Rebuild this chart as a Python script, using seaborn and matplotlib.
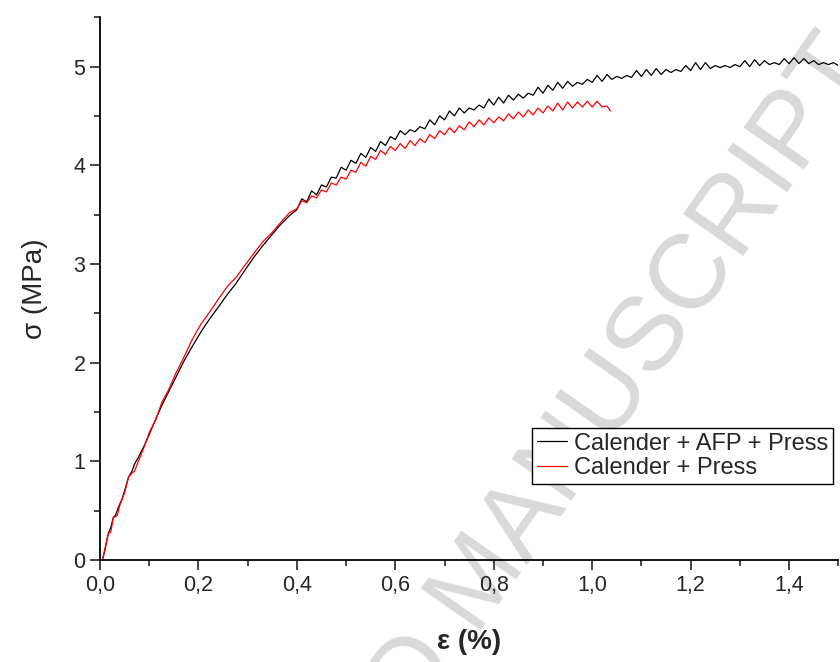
"""
Stress-strain curves, calender + AFP + press vs calender + press
"""
import matplotlib
matplotlib.use("Agg")
import matplotlib.pyplot as plt
import matplotlib.ticker as ticker
import pandas as pd
import seaborn as sns

# ---------- data ----------
strain_afp = [
    0.005, 0.010, 0.017, 0.022, 0.027, 0.032, 0.037, 0.045, 0.050, 0.058,
    0.065, 0.070, 0.078, 0.085, 0.090, 0.100, 0.110, 0.126, 0.140, 0.153,
    0.170, 0.187, 0.205, 0.221, 0.240, 0.260, 0.276, 0.295, 0.313, 0.330,
    0.350, 0.367, 0.385,
    0.40, 0.41, 0.42, 0.43, 0.44, 0.45, 0.46, 0.47, 0.48, 0.49,
    0.50, 0.51, 0.52, 0.53, 0.54, 0.55, 0.56, 0.57, 0.58, 0.59,
    0.60, 0.61, 0.62, 0.63, 0.64, 0.65, 0.66, 0.67, 0.68, 0.69,
    0.70, 0.71, 0.72, 0.73, 0.74, 0.75, 0.76, 0.77, 0.78, 0.79,
    0.80, 0.81, 0.82, 0.83, 0.84, 0.85, 0.86, 0.87, 0.88, 0.89,
    0.90, 0.91, 0.92, 0.93, 0.94, 0.95, 0.96, 0.97, 0.98, 0.99,
    1.00, 1.01, 1.02, 1.03, 1.04, 1.05, 1.06, 1.07, 1.08, 1.09,
    1.10, 1.11, 1.12, 1.13, 1.14, 1.15, 1.16, 1.17, 1.18, 1.19,
    1.20, 1.21, 1.22, 1.23, 1.24, 1.25, 1.26, 1.27, 1.28, 1.29,
    1.30, 1.31, 1.32, 1.33, 1.34, 1.35, 1.36, 1.37, 1.38, 1.39,
    1.40, 1.41, 1.42, 1.43, 1.44, 1.45, 1.46, 1.47, 1.48, 1.49,
    1.50, 1.51,
]
stress_afp = [
    0.00, 0.10, 0.27, 0.33, 0.43, 0.46, 0.53, 0.62, 0.70, 0.84,
    0.90, 0.97, 1.04, 1.11, 1.16, 1.27, 1.39, 1.57, 1.71, 1.84,
    2.01, 2.16, 2.31, 2.43, 2.56, 2.70, 2.80, 2.94, 3.07, 3.18,
    3.30, 3.40, 3.49,
    3.55, 3.66, 3.63, 3.74, 3.70, 3.80, 3.78, 3.88, 3.87, 3.98,
    3.95, 4.05, 4.02, 4.12, 4.08, 4.18, 4.14, 4.24, 4.20, 4.29,
    4.26, 4.35, 4.31, 4.36, 4.34, 4.39, 4.37, 4.46, 4.41, 4.50,
    4.46, 4.55, 4.50, 4.58, 4.53, 4.58, 4.56, 4.61, 4.58, 4.67,
    4.61, 4.69, 4.63, 4.71, 4.66, 4.72, 4.68, 4.73, 4.71, 4.79,
    4.73, 4.81, 4.76, 4.84, 4.78, 4.85, 4.80, 4.84, 4.82, 4.87,
    4.84, 4.91, 4.85, 4.92, 4.87, 4.90, 4.88, 4.91, 4.89, 4.96,
    4.90, 4.97, 4.91, 4.98, 4.92, 4.97, 4.94, 4.97, 4.95, 5.01,
    4.96, 5.04, 4.97, 5.04, 4.98, 5.01, 4.99, 5.01, 4.99, 5.02,
    5.00, 5.06, 5.00, 5.07, 5.01, 5.06, 5.02, 5.04, 5.02, 5.08,
    5.03, 5.09, 5.03, 5.08, 5.03, 5.06, 5.02, 5.04, 5.02, 5.04,
    5.01, 5.03,
]

strain_press = [
    0.005, 0.017, 0.022, 0.027, 0.035, 0.040, 0.050, 0.058, 0.065, 0.070,
    0.078, 0.090, 0.100, 0.113, 0.126, 0.140, 0.153, 0.170, 0.187, 0.205,
    0.221, 0.240, 0.260, 0.276, 0.295, 0.313, 0.330, 0.350, 0.367, 0.385,
    0.40, 0.41, 0.42, 0.43, 0.44, 0.45, 0.46, 0.47, 0.48, 0.49,
    0.50, 0.51, 0.52, 0.53, 0.54, 0.55, 0.56, 0.57, 0.58, 0.59,
    0.60, 0.61, 0.62, 0.63, 0.64, 0.65, 0.66, 0.67, 0.68, 0.69,
    0.70, 0.71, 0.72, 0.73, 0.74, 0.75, 0.76, 0.77, 0.78, 0.79,
    0.80, 0.81, 0.82, 0.83, 0.84, 0.85, 0.86, 0.87, 0.88, 0.89,
    0.90, 0.91, 0.92, 0.93, 0.94, 0.95, 0.96, 0.97, 0.98, 0.99,
    1.00, 1.01, 1.02, 1.03, 1.037,
]
stress_press = [
    0.00, 0.27, 0.28, 0.43, 0.45, 0.55, 0.68, 0.84, 0.88, 0.90,
    1.00, 1.15, 1.29, 1.42, 1.60, 1.73, 1.88, 2.05, 2.23, 2.39,
    2.50, 2.64, 2.78, 2.86, 2.99, 3.11, 3.22, 3.32, 3.42, 3.52,
    3.56, 3.64, 3.62, 3.69, 3.67, 3.75, 3.73, 3.82, 3.80, 3.88,
    3.86, 3.95, 3.93, 4.03, 3.99, 4.09, 4.06, 4.15, 4.11, 4.19,
    4.15, 4.22, 4.17, 4.25, 4.20, 4.27, 4.23, 4.31, 4.27, 4.35,
    4.31, 4.38, 4.33, 4.40, 4.36, 4.44, 4.39, 4.46, 4.41, 4.48,
    4.43, 4.49, 4.45, 4.52, 4.47, 4.54, 4.49, 4.56, 4.51, 4.58,
    4.53, 4.60, 4.55, 4.63, 4.56, 4.64, 4.58, 4.64, 4.59, 4.65,
    4.59, 4.65, 4.59, 4.60, 4.55,
]

series_names = ["Calender + AFP + Press", "Calender + Press"]
series_colors = ["black", "red"]

x_ticks = [0.0, 0.2, 0.4, 0.6, 0.8, 1.0, 1.2, 1.4]
x_tick_labels = ["0,0", "0,2", "0,4", "0,6", "0,8", "1,0", "1,2", "1,4"]
y_ticks = [0, 1, 2, 3, 4, 5]

df = pd.concat([
    pd.DataFrame({"strain": strain_afp, "stress": stress_afp, "sample": series_names[0]}),
    pd.DataFrame({"strain": strain_press, "stress": stress_press, "sample": series_names[1]}),
])

sns.set_style("ticks")
plt.rcParams["font.family"] = ["Liberation Sans", "DejaVu Sans"]

fig = plt.figure(figsize=(8.4, 6.62), dpi=100)
ax = fig.add_axes([0.119, 0.154, 0.879, 0.820])

# watermark, kept under everything else
fig.text(0.572, 0.12, "ACCEPTED MANUSCRIPT", fontsize=76, color="#d9d9d9",
         rotation=55, ha="center", va="center", rotation_mode="anchor", zorder=-1)

sns.lineplot(
    data=df, x="strain", y="stress", hue="sample", units="sample",
    estimator=None, sort=False, palette=series_colors,
    hue_order=series_names, linewidth=0.9, ax=ax
)

ax.set_xlim(0, 1.5)
ax.set_ylim(0, 5.5)
ax.set_xticks(x_ticks)
ax.set_xticklabels(x_tick_labels)
ax.set_yticks(y_ticks)
ax.xaxis.set_minor_locator(ticker.MultipleLocator(0.1))
ax.yaxis.set_minor_locator(ticker.MultipleLocator(0.5))
ax.tick_params(which="major", length=7, width=1.2, labelsize=15.5, direction="out")
ax.tick_params(which="minor", length=4, width=1.2, direction="out")
for side in ["left", "bottom"]:
    ax.spines[side].set_linewidth(1.3)
    ax.spines[side].set_color("black")
sns.despine(ax=ax)
ax.patch.set_alpha(0)

ax.set_xlabel("ε (%)", fontsize=20, fontweight="bold", labelpad=24)
ax.set_ylabel("σ (MPa)", fontsize=20, labelpad=18)

leg = ax.legend(
    loc="upper right", bbox_to_anchor=(0.992, 0.3535), bbox_transform=fig.transFigure,
    fontsize=17, frameon=True, fancybox=False, edgecolor="black", framealpha=1,
    handlelength=1.3, handletextpad=0.3, borderpad=0.2, labelspacing=0.1,
    borderaxespad=0
)
leg.get_frame().set_linewidth(1.0)

plt.savefig("out.png", dpi=100)
